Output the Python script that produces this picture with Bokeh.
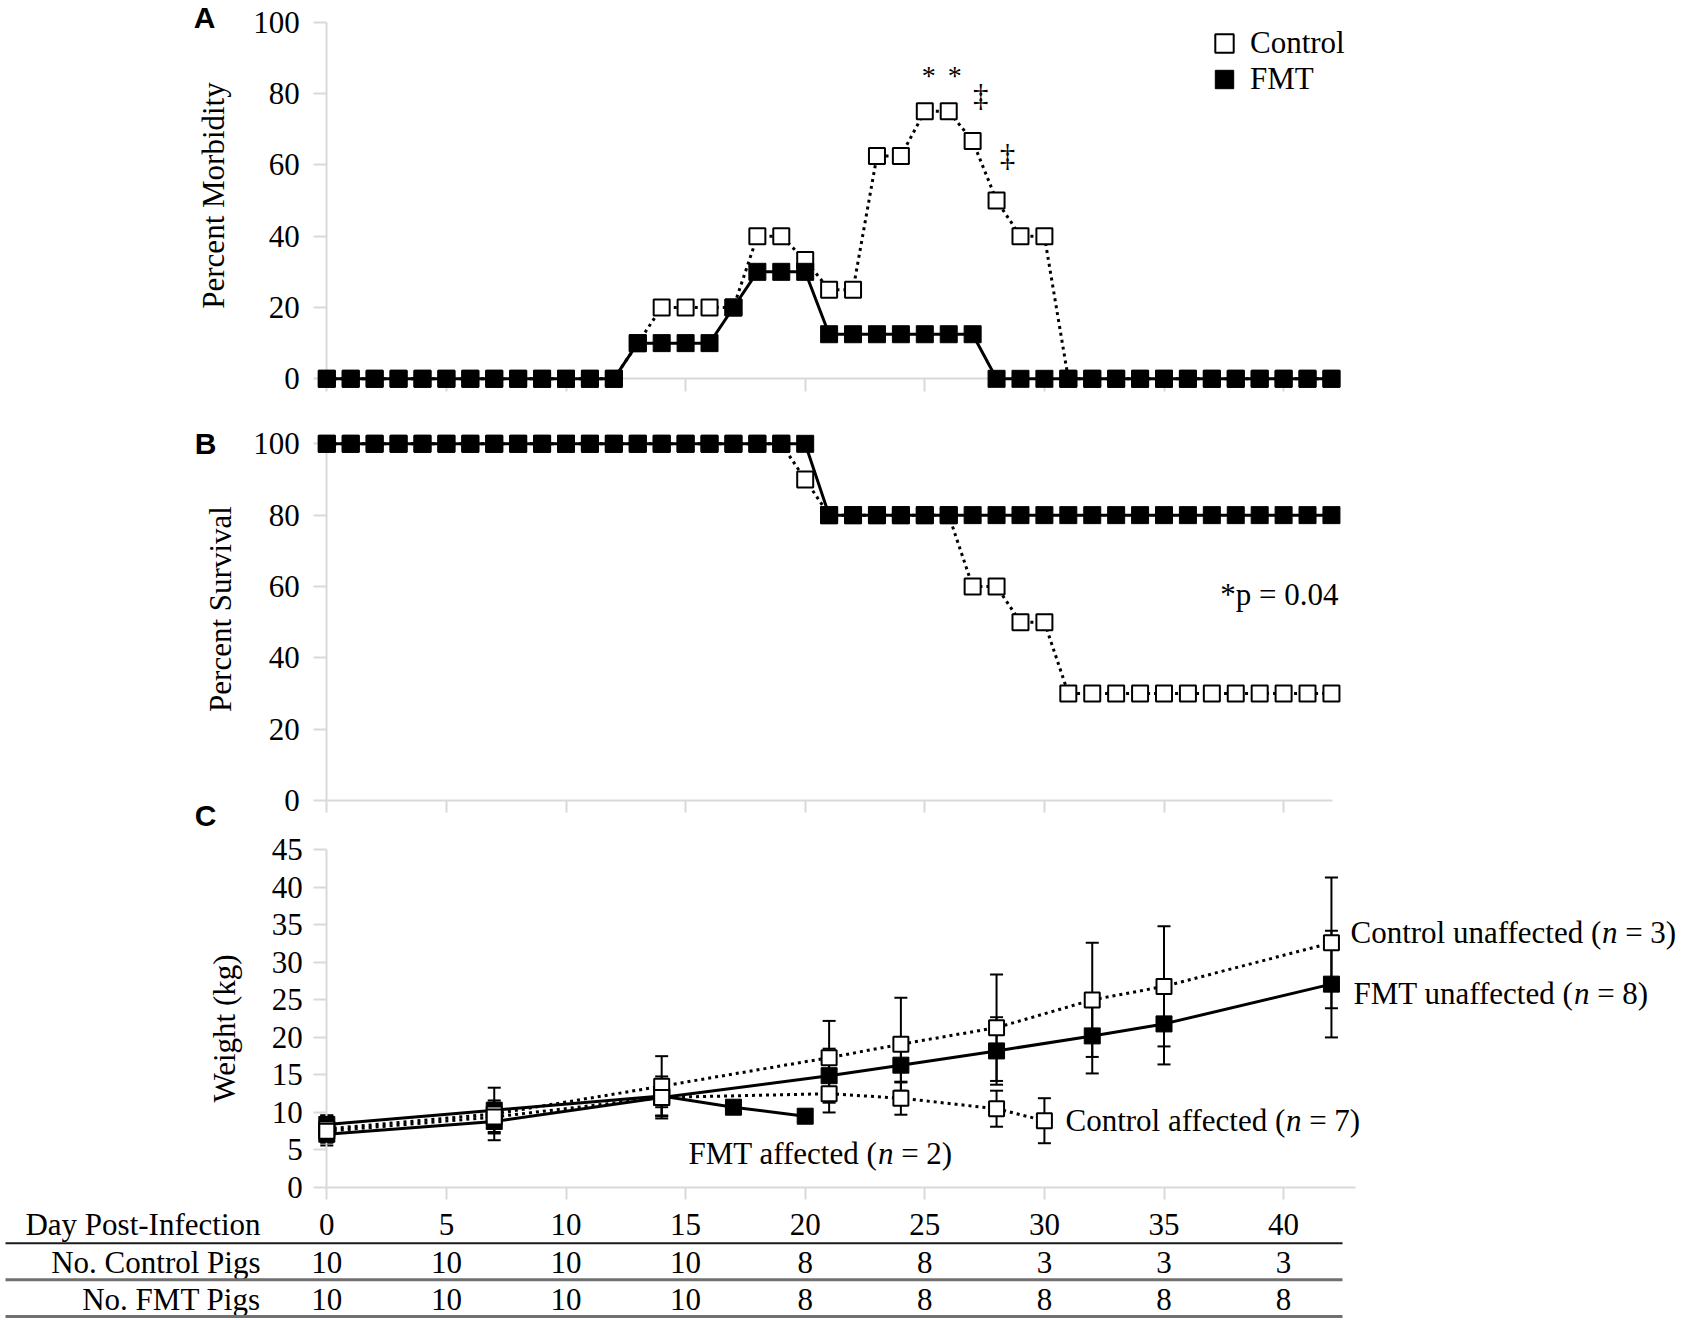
import math
from bokeh.plotting import figure
from bokeh.models import (Range1d, LinearAxis, FixedTicker, ColumnDataSource, Whisker,
                          TeeHead, Label, Legend, LegendItem)
from bokeh.layouts import column
from bokeh.core.properties import value
from bokeh.embed import file_html
from bokeh.resources import INLINE

# ------------------------------------------------------------------ data
days = [0, 1, 2, 3, 4, 5, 6, 7, 8, 9, 10, 11, 12, 13, 14, 15, 16, 17, 18, 19, 20,
        21, 22, 23, 24, 25, 26, 27, 28, 29, 30, 31, 32, 33, 34, 35, 36, 37, 38, 39,
        40, 41, 42]
control_morbidity = [0, 0, 0, 0, 0, 0, 0, 0, 0, 0, 0, 0, 0, 10, 20, 20, 20, 20, 40, 40,
                     33.3, 25, 25, 62.5, 62.5, 75, 75, 66.7, 50, 40, 40, 0, 0, 0, 0, 0,
                     0, 0, 0, 0, 0, 0, 0]
fmt_morbidity = [0, 0, 0, 0, 0, 0, 0, 0, 0, 0, 0, 0, 0, 10, 10, 10, 10, 20, 30, 30, 30,
                 12.5, 12.5, 12.5, 12.5, 12.5, 12.5, 12.5, 0, 0, 0, 0, 0, 0, 0, 0, 0, 0,
                 0, 0, 0, 0, 0]
control_survival = [100, 100, 100, 100, 100, 100, 100, 100, 100, 100, 100, 100, 100, 100,
                    100, 100, 100, 100, 100, 100, 90, 80, 80, 80, 80, 80, 80, 60, 60, 50,
                    50, 30, 30, 30, 30, 30, 30, 30, 30, 30, 30, 30, 30]
fmt_survival = [100, 100, 100, 100, 100, 100, 100, 100, 100, 100, 100, 100, 100, 100, 100,
                100, 100, 100, 100, 100, 100, 80, 80, 80, 80, 80, 80, 80, 80, 80, 80, 80,
                80, 80, 80, 80, 80, 80, 80, 80, 80, 80, 80]
star_days = [25, 26]
dagger_days = [27, 28]

unaffected_days = [0, 7, 14, 21, 24, 28, 32, 35, 42]
control_unaffected_wt = [7.8, 9.8, 13.5, 17.3, 19.1, 21.3, 25.0, 26.8, 32.6]
control_unaffected_sd = [1.8, 3.5, 4.0, 4.9, 6.2, 7.1, 7.6, 8.0, 8.7]
fmt_unaffected_wt = [7.1, 8.8, 12.0, 14.9, 16.3, 18.2, 20.2, 21.8, 27.1]
fmt_unaffected_sd = [1.5, 1.4, 2.8, 3.6, 2.3, 4.5, 5.0, 5.4, 7.1]
control_affected_days = [0, 7, 14, 21, 24, 28, 30]
control_affected_wt = [7.5, 9.4, 12.0, 12.5, 11.9, 10.5, 8.9]
control_affected_sd = [1.5, 2.2, 2.4, 2.5, 2.2, 2.4, 3.0]
fmt_affected_days = [0, 7, 14, 17, 20]
fmt_affected_wt = [8.4, 10.3, 12.2, 10.7, 9.5]
fmt_affected_sd = [1.2, 1.0, 1.5, 0.0, 0.0]

group_names = ["Control unaffected", "FMT unaffected", "Control affected", "FMT affected"]
group_n = ["3", "8", "7", "2"]

table_days = [0, 5, 10, 15, 20, 25, 30, 35, 40]
no_control_pigs = [10, 10, 10, 10, 8, 8, 3, 3, 3]
no_fmt_pigs = [10, 10, 10, 10, 8, 8, 8, 8, 8]
row_labels = ["Day Post-Infection", "No. Control Pigs", "No. FMT Pigs"]

morbidity_ticks = [0, 20, 40, 60, 80, 100]
survival_ticks = [0, 20, 40, 60, 80, 100]
weight_ticks = [0, 5, 10, 15, 20, 25, 30, 35, 40, 45]
day_ticks = [0, 5, 10, 15, 20, 25, 30, 35, 40]

# ------------------------------------------------------------------ layout helpers
GRAY = "#d9d9d9"
SERIF = "Liberation Serif"
SANS = "Liberation Sans"
FS = 31
W = 1683
X0 = 326.3       # pixel of day 0
PXD = 23.92      # pixels per day
FRAME_L = 185


def xd(px):
    return (px - X0) / PXD


X_START = xd(FRAME_L)
X_END = xd(W)

TIMES = {' ': 250, '(': 333, ')': 333, '=': 564, '.': 250, '-': 333, '*': 500,
         'A': 722, 'C': 667, 'F': 556, 'M': 889, 'T': 611, 'P': 556, 'I': 333, 'N': 722,
         'D': 722, 'W': 944, 'S': 556,
         'a': 444, 'b': 500, 'c': 444, 'd': 500, 'e': 444, 'f': 333, 'g': 500, 'h': 500,
         'i': 278, 'k': 500, 'l': 278, 'm': 778, 'n': 500, 'o': 500, 'p': 500, 'r': 333,
         's': 389, 't': 278, 'u': 500, 'v': 500, 'y': 500}


def tw(s, size):
    return sum(TIMES.get(ch, 500) for ch in s) / 1000.0 * size


def panel(top, bottom, y0px, ppu):
    # the frame fills the figure height; the y range is chosen so that
    # value 0 sits at page pixel y0px with ppu pixels per unit
    p = figure(width=W, height=bottom - top,
               x_range=Range1d(X_START, X_END),
               y_range=Range1d((y0px - bottom) / ppu, (y0px - top) / ppu),
               output_backend="svg", toolbar_location=None,
               x_axis_type=None, y_axis_type=None,
               min_border_left=FRAME_L, min_border_right=0,
               min_border_top=0, min_border_bottom=0)
    p.outline_line_color = None
    p.background_fill_color = "white"
    p.border_fill_color = "white"

    def yd(px):
        return (y0px - px) / ppu
    return p, yd


def y_axis(p, ticks, bounds, standoff):
    ax = LinearAxis(fixed_location=0, bounds=bounds, ticker=FixedTicker(ticks=ticks))
    ax.axis_line_color = GRAY
    ax.axis_line_width = 2
    ax.major_tick_line_color = GRAY
    ax.major_tick_line_width = 2
    ax.major_tick_out = 13
    ax.major_tick_in = 0
    ax.minor_tick_line_color = None
    ax.major_label_text_font = SERIF
    ax.major_label_text_font_size = f"{FS}px"
    ax.major_label_text_color = "black"
    ax.major_label_standoff = standoff
    p.add_layout(ax, "left")


def x_axis(p, bounds, tick_len):
    # day ticks without numbers (the numbers are in the table underneath);
    # placed "above" so that the inward ticks point down from the zero line
    ax = LinearAxis(fixed_location=0, bounds=bounds,
                    ticker=FixedTicker(ticks=[], minor_ticks=day_ticks))
    ax.axis_line_color = GRAY
    ax.axis_line_width = 2
    ax.major_tick_line_color = None
    ax.major_tick_out = 0
    ax.major_tick_in = 0
    ax.minor_tick_line_color = GRAY
    ax.minor_tick_line_width = 2
    ax.minor_tick_out = 0
    ax.minor_tick_in = tick_len
    ax.major_label_standoff = 0
    p.add_layout(ax, "above")


def add_label(p, x, y, text, font=SERIF, size=FS, style="normal", angle=0.0,
              align="center"):
    p.add_layout(Label(x=x, y=y, text=text, text_font=font, text_font_size=f"{size}px",
                       text_font_style=style, text_color="black", angle=angle,
                       text_align=align, text_baseline="middle"))


LVL = "annotation"   # draw data above the axis lines


def open_sq(p, x, y, size):
    return p.scatter(x, y, marker="square", size=size, fill_color="white",
                     line_color="black", line_width=2, level=LVL)


def filled_sq(p, x, y, size):
    return p.scatter(x, y, marker="square", size=size + 1, fill_color="black",
                     line_color="black", line_width=1, level=LVL)


def solid(p, x, y):
    p.line(x, y, line_color="black", line_width=3, level=LVL)


def dotted(p, x, y):
    p.line(x, y, line_color="black", line_width=3, line_dash="3 4", level=LVL)


LETTER = 30

# ------------------------------------------------------------------ panel A
A_TOP, A_BOT = 0, 406
pa, ydA = panel(A_TOP, A_BOT, 378.3, 3.566)
y_axis(pa, morbidity_ticks, (0, 100), 14)
x_axis(pa, (0, 42.1), 13)

dotted(pa, days, control_morbidity)
rA_ctrl = open_sq(pa, days, control_morbidity, 16)
solid(pa, days, fmt_morbidity)
rA_fmt = filled_sq(pa, days, fmt_morbidity, 16)

star_src = ColumnDataSource(dict(x=star_days, y=[control_morbidity[d] for d in star_days],
                                 t=["*", "*"], dx=[4, 6]))
pa.text(x="x", y="y", text="t", source=star_src, text_font=value(SERIF),
        text_font_size="28px", text_align="center", text_baseline="middle",
        x_offset="dx", y_offset=-36, level=LVL)
dag_src = ColumnDataSource(dict(x=dagger_days, y=[control_morbidity[d] for d in dagger_days],
                                t=["\u2021", "\u2021"], dx=[8, 11]))
pa.text(x="x", y="y", text="t", source=dag_src, text_font=value(SERIF),
        text_font_size="31px", text_align="center", text_baseline="middle",
        x_offset="dx", y_offset=-45, level=LVL)

GL = 46
for rend, name, cy in ((rA_ctrl, "Control", 42.5), (rA_fmt, "FMT", 79)):
    leg = Legend(items=[LegendItem(label=name, renderers=[rend])],
                 location=(1224 - GL / 2 - FRAME_L, A_BOT - (cy + GL / 2)),
                 glyph_width=GL, glyph_height=GL, label_standoff=3,
                 label_text_font=SERIF, label_text_font_size=f"{FS}px",
                 label_text_color="black", padding=0, margin=0, spacing=0,
                 border_line_color=None, background_fill_alpha=0)
    pa.add_layout(leg)

add_label(pa, xd(204), ydA(17), "A", font=SANS, size=LETTER, style="bold")
add_label(pa, xd(212.5), ydA(195), "Percent Morbidity", angle=math.pi / 2)

# ------------------------------------------------------------------ panel B
B_TOP, B_BOT = 406, 832
pb, ydB = panel(B_TOP, B_BOT, 800, 3.567)
y_axis(pb, survival_ticks, (0, 100), 14)
x_axis(pb, (0, 42.05), 12)

dotted(pb, days, control_survival)
open_sq(pb, days, control_survival, 16)
solid(pb, days, fmt_survival)
filled_sq(pb, days, fmt_survival, 16)

add_label(pb, xd(1338), ydB(594), "*p = 0.04", align="right")
add_label(pb, xd(205), ydB(443), "B", font=SANS, size=LETTER, style="bold")
add_label(pb, xd(219.7), ydB(608.5), "Percent Survival", angle=math.pi / 2)
add_label(pb, xd(205), ydB(815), "C", font=SANS, size=LETTER, style="bold")

# ------------------------------------------------------------------ panel C
C_TOP, C_BOT = 832, 1205
pc, ydC = panel(C_TOP, C_BOT, 1187, 7.504)
y_axis(pc, weight_ticks, (0, 45), 11)
x_axis(pc, (0, 43), 12)


def errorbars(p, xs, ys, sds):
    src = ColumnDataSource(dict(x=xs, upper=[a + b for a, b in zip(ys, sds)],
                                lower=[a - b for a, b in zip(ys, sds)]))
    p.add_layout(Whisker(source=src, base="x", upper="upper", lower="lower",
                         dimension="height", line_color="black", line_width=2,
                         upper_head=TeeHead(size=13, line_color="black", line_width=2),
                         lower_head=TeeHead(size=13, line_color="black", line_width=2),
                         level="underlay"))


errorbars(pc, unaffected_days, control_unaffected_wt, control_unaffected_sd)
errorbars(pc, unaffected_days, fmt_unaffected_wt, fmt_unaffected_sd)
errorbars(pc, control_affected_days, control_affected_wt, control_affected_sd)
errorbars(pc, fmt_affected_days, fmt_affected_wt, fmt_affected_sd)

solid(pc, unaffected_days, fmt_unaffected_wt)
solid(pc, fmt_affected_days, fmt_affected_wt)
dotted(pc, unaffected_days, control_unaffected_wt)
dotted(pc, control_affected_days, control_affected_wt)
filled_sq(pc, unaffected_days, fmt_unaffected_wt, 15)
filled_sq(pc, fmt_affected_days, fmt_affected_wt, 15)
open_sq(pc, unaffected_days, control_unaffected_wt, 15)
open_sq(pc, control_affected_days, control_affected_wt, 15)

# group labels with italic n
lab_xpx = [1350, 1353, 1065, 688]
lab_ypx = [931.7, 993, 1120, 1153]
pre = [nm + " (" for nm in group_names]
post = ["= " + k + ")" for k in group_n]
off_n = [tw(s, FS) for s in pre]
off_post = [o + 0.5 * FS + tw(" ", FS) for o in off_n]
gsrc = ColumnDataSource(dict(x=[xd(v) for v in lab_xpx], y=[ydC(v) for v in lab_ypx],
                             pre=pre, n=["n"] * 4, post=post,
                             o0=[0] * 4, o1=off_n, o2=off_post))
for col, off, sty in (("pre", "o0", "normal"), ("n", "o1", "italic"), ("post", "o2", "normal")):
    pc.text(x="x", y="y", text=col, source=gsrc, x_offset=off,
            text_font=value(SERIF), text_font_size=f"{FS}px", text_font_style=sty,
            text_align="left", text_baseline="middle", text_color="black", level=LVL)

add_label(pc, xd(223.5), ydC(1028), "Weight (kg)", angle=math.pi / 2)

# ------------------------------------------------------------------ table
T_TOP, T_BOT = 1205, 1318
TH = T_BOT - T_TOP
pt = figure(width=W, height=TH, x_range=Range1d(xd(0), X_END), y_range=Range1d(TH, 0),
            output_backend="svg", toolbar_location=None, x_axis_type=None,
            y_axis_type=None, min_border=0)
pt.frame_align = False
pt.min_border_left = 0
pt.min_border_right = 0
pt.min_border_top = 0
pt.min_border_bottom = 0
pt.outline_line_color = None

row_y = [1224 - T_TOP, 1261.5 - T_TOP, 1299 - T_TOP]
line_y = [1242.7 - T_TOP, 1279.3 - T_TOP, 1316 - T_TOP]
rows = [[str(d) for d in table_days], [str(v) for v in no_control_pigs],
        [str(v) for v in no_fmt_pigs]]
for ry, vals in zip(row_y, rows):
    pt.text(x=table_days, y=[ry] * len(vals), text=vals, text_font=value(SERIF),
            text_font_size=f"{FS}px", text_align="center", text_baseline="middle",
            text_color="black")
pt.text(x=[xd(260)] * 3, y=row_y, text=row_labels, text_font=value(SERIF),
        text_font_size=f"{FS}px", text_align="right", text_baseline="middle",
        text_color="black")
pt.segment(x0=[xd(5)], y0=[line_y[0]], x1=[xd(1342)], y1=[line_y[0]],
           line_color="#1a1a1a", line_width=2)
pt.segment(x0=[xd(5)] * 2, y0=line_y[1:], x1=[xd(1342)] * 2, y1=line_y[1:],
           line_color="#707070", line_width=3)

layout = column(pa, pb, pc, pt, spacing=0)
open("out.html", "w").write(file_html(layout, INLINE))
